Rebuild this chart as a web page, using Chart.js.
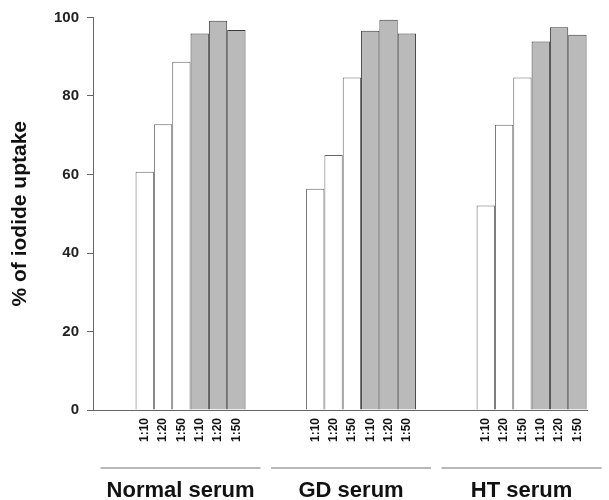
<!DOCTYPE html>
<html>
<head>
<meta charset="utf-8">
<script src="https://cdn.jsdelivr.net/npm/chart.js@4/dist/chart.umd.min.js"></script>
<style>
  html, body { margin: 0; padding: 0; background: #fff; }
  #wrap { width: 609px; height: 500px; }
</style>
</head>
<body>
<div id="wrap"><canvas id="myChart"></canvas></div>
<script>
const groups = ['Normal serum', 'GD serum', 'HT serum'];
const dilutions = ['1:10', '1:20', '1:50'];

// open (white) bars
const open110 = [60.7, 56.4, 52.1];
const open120 = [72.8, 65.0, 72.7];
const open150 = [88.7, 84.7, 84.7];

// shaded (grey) bars
const shaded110 = [95.9, 96.6, 93.9];
const shaded120 = [99.2, 99.4, 97.5];
const shaded150 = [96.8, 95.9, 95.6];

const yTicks = [0, 20, 40, 60, 80, 100];

const toPoints = (vals) => vals.map((v, i) => ({ x: i, y: v }));

const openStyle = { backgroundColor: '#ffffff', borderColor: '#666666' };
const shadedStyle = { backgroundColor: '#bababa', borderColor: '#3a3a3a' };

const datasets = [
    { label: dilutions[0], data: toPoints(open110), ...openStyle },
    { label: dilutions[1], data: toPoints(open120), ...openStyle },
    { label: dilutions[2], data: toPoints(open150), ...openStyle },
    { label: dilutions[0], data: toPoints(shaded110), ...shadedStyle },
    { label: dilutions[1], data: toPoints(shaded120), ...shadedStyle },
    { label: dilutions[2], data: toPoints(shaded150), ...shadedStyle },
].map(ds => ({ ...ds, borderWidth: 1, categoryPercentage: 0.645, barPercentage: 1 }));

// dilution labels under each bar + group names with lines
const labelsPlugin = {
    id: 'barLabels',
    afterDraw(chart) {
        const ctx = chart.ctx;
        ctx.save();
        ctx.fillStyle = '#111';
        ctx.font = 'bold 12px "Liberation Sans", Arial, sans-serif';
        ctx.textAlign = 'right';
        ctx.textBaseline = 'middle';
        chart.data.datasets.forEach((ds, d) => {
            chart.getDatasetMeta(d).data.forEach((bar) => {
                ctx.save();
                ctx.translate(bar.x, chart.chartArea.bottom + 8);
                ctx.rotate(-Math.PI / 2);
                ctx.fillText(ds.label, 0, 0);
                ctx.restore();
            });
        });

        const first = chart.getDatasetMeta(0).data;
        const last = chart.getDatasetMeta(chart.data.datasets.length - 1).data;
        ctx.font = 'bold 22px "Liberation Sans", Arial, sans-serif';
        ctx.textAlign = 'center';
        ctx.textBaseline = 'alphabetic';
        groups.forEach((g, i) => {
            const cx = (first[i].x + last[i].x) / 2 - 10;
            ctx.strokeStyle = '#a0a0a0';
            ctx.lineWidth = 1.5;
            ctx.beginPath();
            ctx.moveTo(cx - 80, 468);
            ctx.lineTo(cx + 80, 468);
            ctx.stroke();
            ctx.fillText(g, cx, 497);
        });
        ctx.restore();
    }
};

const ctx = document.getElementById('myChart').getContext('2d');
new Chart(ctx, {
    type: 'bar',
    data: { datasets: datasets },
    options: {
        responsive: true,
        maintainAspectRatio: false,
        animation: false,
        layout: { padding: { top: 17.5, right: 22, left: 0, bottom: 0 } },
        plugins: {
            legend: { display: false },
            tooltip: { enabled: false },
        },
        scales: {
            x: {
                type: 'linear',
                offset: false,
                min: -0.572,
                max: 2.325,
                afterBuildTicks: (s) => { s.ticks = groups.map((g, i) => ({ value: i })); },
                afterFit: (s) => { s.height = 90; },
                ticks: { display: false },
                grid: { display: false, offset: false },
                border: { display: true, color: '#666', width: 1 },
            },
            y: {
                min: 0,
                max: 100,
                afterBuildTicks: (s) => { s.ticks = yTicks.map(v => ({ value: v })); },
                afterFit: (s) => { s.width = 93; },
                ticks: {
                    padding: 8,
                    color: '#222',
                    font: { family: '"Liberation Sans", Arial, sans-serif', size: 15, weight: 'bold' },
                },
                grid: { drawOnChartArea: false, drawTicks: true, tickLength: 6, color: '#666' },
                border: { display: true, color: '#666', width: 1 },
                title: {
                    display: true,
                    text: '% of iodide uptake',
                    color: '#111',
                    padding: { top: 8, bottom: 0 },
                    font: { family: '"Liberation Sans", Arial, sans-serif', size: 21, weight: 'bold' },
                },
            },
        },
    },
    plugins: [labelsPlugin],
});
</script>
</body>
</html>
